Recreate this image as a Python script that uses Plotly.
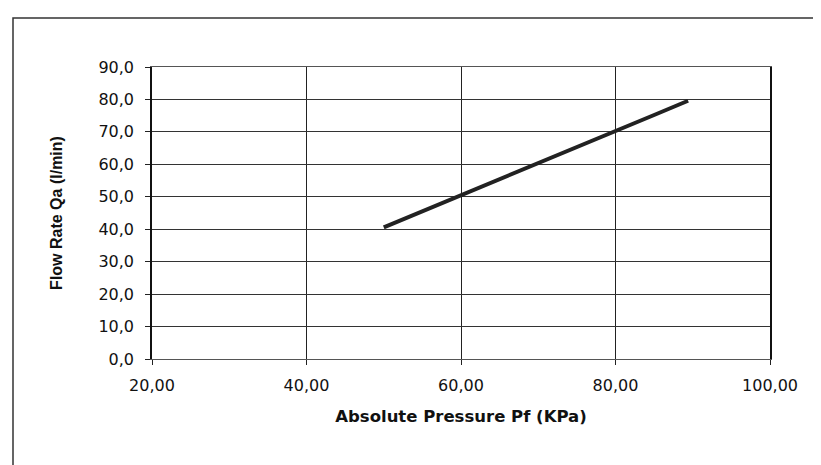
import plotly.graph_objects as go

pressure = [50.0, 55.0, 60.0, 65.0, 70.0, 75.0, 80.0, 85.0, 89.4]
flow_rate = [40.6, 45.5, 50.5, 55.4, 60.3, 65.3, 70.2, 75.2, 79.6]

x_title = "Absolute Pressure Pf (KPa)"
y_title = "Flow Rate Qa (l/min)"

W, H = 821, 465
L, R, T, B = 144, 762, 59, 351

fig = go.Figure()
fig.add_trace(go.Scatter(
    x=pressure, y=flow_rate, mode="lines",
    line=dict(color="#222222", width=4),
    showlegend=False,
))

tick_font = dict(family="DejaVu Sans, Liberation Sans, Arial, sans-serif", color="#111111", size=16)

fig.update_layout(
    width=W, height=H,
    margin=dict(l=L, r=W - R, t=T, b=H - B),
    paper_bgcolor="white", plot_bgcolor="white",
    separators=", ",
    font=dict(family="Liberation Sans, Arial, sans-serif", color="#111111", size=14),
    xaxis=dict(
        range=[20, 100], dtick=20, tick0=20, tickformat=".2f",
        showgrid=True, gridcolor="#222222", gridwidth=1,
        ticks="outside", ticklen=5, tickcolor="#222222",
        showline=True, linecolor="#555555", linewidth=1, mirror=True,
        zeroline=False,
        tickfont=tick_font,
        ticklabelstandoff=7,
        title=dict(text="<b>" + x_title + "</b>", standoff=16,
                   font=dict(family="DejaVu Sans, Liberation Sans, sans-serif", size=16.5, color="#111111")),
    ),
    yaxis=dict(
        range=[0, 90], dtick=10, tick0=0, tickformat=".1f",
        showgrid=True, gridcolor="#333333", gridwidth=1,
        ticks="outside", ticklen=5, tickcolor="#222222",
        showline=True, linecolor="#111111", linewidth=1.5, mirror=True,
        zeroline=False,
        tickfont=tick_font,
        ticklabelstandoff=8,
        title=dict(text="<b>" + y_title + "</b>", standoff=32,
                   font=dict(family="Liberation Sans, Arial, sans-serif", size=16, color="#111111")),
    ),
)

# outer chart border (partially cut off at right and bottom)
def px_to_paper_x(px):
    return (px - L) / (R - L)

def px_to_paper_y(py):
    return (B - py) / (B - T)

fig.add_shape(
    type="rect", xref="paper", yref="paper",
    x0=px_to_paper_x(5), x1=px_to_paper_x(835),
    y0=px_to_paper_y(480), y1=px_to_paper_y(10),
    line=dict(color="#333333", width=1.5),
    fillcolor="rgba(0,0,0,0)", layer="below",
)

fig.write_html("out.html")
